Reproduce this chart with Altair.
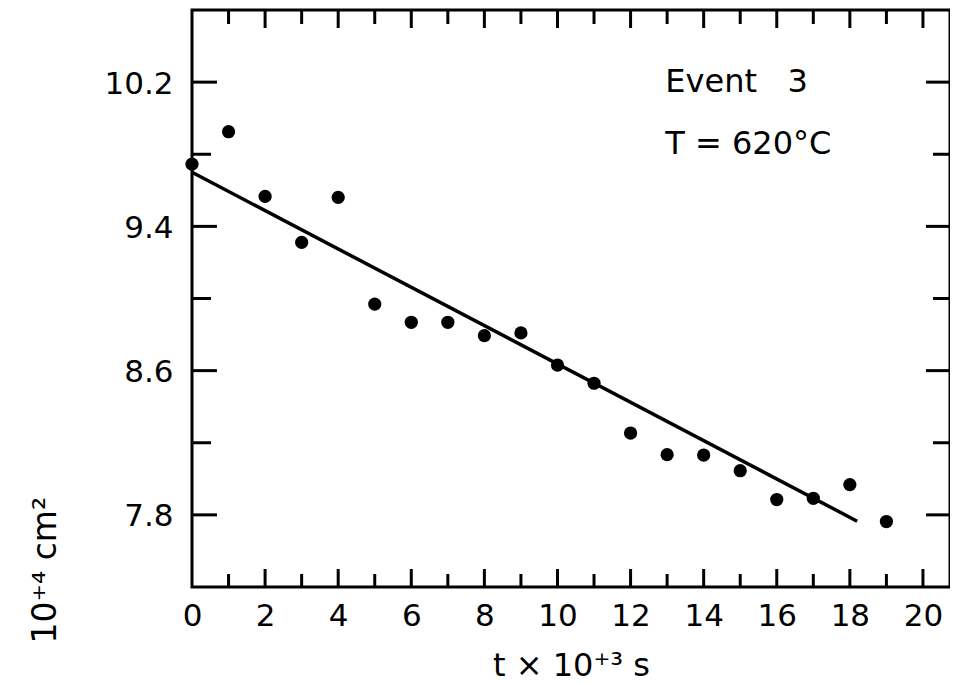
import altair as alt
import pandas as pd

# --- data ---
t_vals = [0, 1, 2, 3, 4, 5, 6, 7, 8, 9, 10, 11, 12, 13, 14, 15, 16, 17, 18, 19]
a_vals = [9.745, 9.925, 9.566, 9.311, 9.561, 8.969, 8.868, 8.868, 8.794, 8.809,
          8.631, 8.530, 8.254, 8.134, 8.132, 8.045, 7.885, 7.892, 7.968, 7.763]
fit_t = [0.0, 18.2]
fit_a = [9.70, 7.765]

x_label_values = [0, 2, 4, 6, 8, 10, 12, 14, 16, 18, 20]
x_minor_ticks = [1, 3, 5, 7, 9, 11, 13, 15, 17, 19]
x_major_ticks = [2, 4, 6, 8, 10, 12, 14, 16, 18, 20]
y_label_values = [7.8, 8.6, 9.4, 10.2]
y_minor_ticks = [8.2, 9.0, 9.8]

notes = ["Event\u00a0\u00a0\u00a03", "T = 620\u00b0C"]
note_t = [12.95, 12.95]
note_a = [10.145, 9.8]

X_TITLE = "t \u00d7 10\u207a\u00b3 s"
Y_TITLE = "10\u207a\u2074 cm\u00b2"

FONT = "DejaVu Sans"
W, H = 758, 577

xscale = alt.Scale(domain=[0, 20.74], nice=False, zero=False)
yscale = alt.Scale(domain=[7.4, 10.6], nice=False, zero=False)

pts = pd.DataFrame({"t": t_vals, "a": a_vals})
fit = pd.DataFrame({"t": fit_t, "a": fit_a})
txt = pd.DataFrame({"t": note_t, "a": note_a, "label": notes})

xaxis = alt.Axis(values=x_label_values, ticks=False, domain=False, grid=False,
                 labelFontSize=31, labelFont=FONT, labelColor="black", labelPadding=14,
                 labelFlush=False, labelOverlap=False,
                 titleFontSize=32, titleFont=FONT, titleFontWeight="normal", titleColor="black",
                 titleY=88, titleBaseline="alphabetic")
yaxis = alt.Axis(values=y_label_values, format=".1f", ticks=False, domain=False, grid=False,
                 labelFontSize=31, labelFont=FONT, labelColor="black", labelPadding=19, labelOffset=2,
                 labelFlush=False, labelOverlap=False,
                 titleFontSize=33, titleFont=FONT, titleFontWeight="normal", titleColor="black",
                 titleAngle=270, titleAlign="left", titleBaseline="alphabetic",
                 titleX=-137, titleY=633)


def X(field="t"):
    return alt.X(f"{field}:Q", scale=xscale, axis=xaxis, title=X_TITLE)


def Y(field="a"):
    return alt.Y(f"{field}:Q", scale=yscale, axis=yaxis, title=Y_TITLE)


points = alt.Chart(pts).mark_circle(size=175, color="black", opacity=1).encode(x=X(), y=Y())
line = alt.Chart(fit).mark_line(color="black", strokeWidth=3.5).encode(x=X(), y=Y())
text = alt.Chart(txt).mark_text(align="left", baseline="alphabetic", fontSize=32,
                                font=FONT, color="black").encode(x=X(), y=Y(), text="label:N")


def xticks(vals, y0, y1):
    return alt.Chart(pd.DataFrame({"t": vals})).mark_rule(color="black", strokeWidth=3).encode(
        x=X(), y=alt.value(y0), y2=alt.value(y1))


def yticks(vals, x0, x1):
    return alt.Chart(pd.DataFrame({"a": vals})).mark_rule(color="black", strokeWidth=3).encode(
        y=Y(), x=alt.value(x0), x2=alt.value(x1))


tick_layers = [
    xticks(x_major_ticks, H, H - 18),
    xticks(x_minor_ticks, H, H - 13),
    xticks(x_major_ticks, 0, 18),
    xticks(x_minor_ticks, 0, 14),
    yticks(y_label_values, 0, 25),
    yticks(y_minor_ticks, 0, 19),
    yticks(y_label_values, W, W - 24),
    yticks(y_minor_ticks, W, W - 17),
]

chart = alt.layer(*tick_layers, line, points, text).properties(
    width=W, height=H,
    autosize=alt.AutoSizeParams(type="none"),
    padding={"left": 184, "top": 2, "right": 0, "bottom": 95},
    background="white",
).configure_view(stroke="black", strokeWidth=3)

chart.save("out.html", embed_options={"renderer": "svg", "actions": False})
